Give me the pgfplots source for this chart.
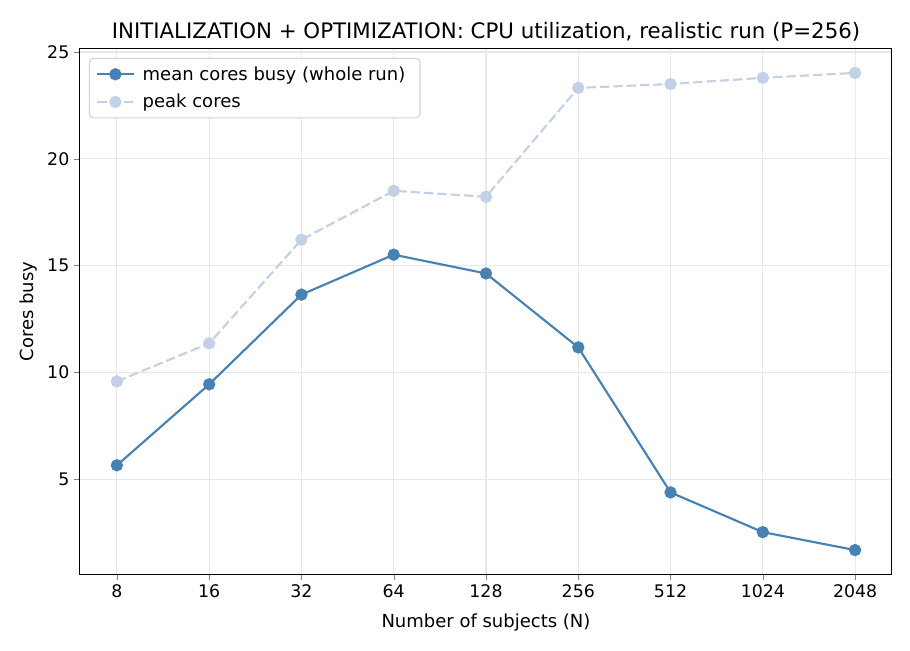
\documentclass[border=0pt]{standalone}
\usepackage{pgfplots}
\pgfplotsset{compat=1.18}
\usepackage{fontspec}
\setmainfont{DejaVu Sans}
\definecolor{steel}{HTML}{4682B4}
\definecolor{peakc}{RGB}{194,209,229}
\definecolor{gridc}{RGB}{232,232,232}
\begin{document}
\begin{tikzpicture}
\path[use as bounding box] (-60pt,-57pt) rectangle (622.5pt,430.5pt);
\begin{axis}[
  at={(0,0)}, anchor=south west,
  scale only axis, width=609pt, height=393.75pt,
  xmin=-0.4, xmax=8.4, ymin=0.56, ymax=25.14,
  xtick={0,1,2,3,4,5,6,7,8},
  xticklabels={8,16,32,64,128,256,512,1024,2048},
  ytick={5,10,15,20,25},
  /pgf/number format/assume math mode=true,
  tick label style={font=\fontsize{13}{15}\selectfont},
  label style={font=\fontsize{13.5}{16}\selectfont},
  xlabel={Number of subjects (N)},
  ylabel={Cores busy},
  xlabel style={yshift=-5pt},
  ylabel style={yshift=1pt},
  title={INITIALIZATION + OPTIMIZATION: CPU utilization, realistic run (P=256)},
  title style={font=\fontsize{16}{19}\selectfont, yshift=-4pt},
  grid=major, major grid style={gridc, line width=0.8pt},
  tick align=outside, tick pos=left,
  major tick length=4.5pt,
  axis line style={line width=0.75pt},
  legend style={font=\fontsize{13.5}{16}\selectfont, draw=gray!35, line width=0.8pt, rounded corners=3pt, at={(0.011,0.983)}, anchor=north west, inner xsep=5pt, inner ysep=4pt, row sep=5pt, nodes={inner xsep=6pt}},
  legend cell align=left,
  legend image code/.code={\draw[mark repeat=2,mark phase=2,#1] plot coordinates {(0cm,0cm) (0.48cm,0cm) (0.96cm,0cm)};},
]
\addplot[steel, line width=1.6pt, mark=*, mark size=3.8pt, mark options={fill=steel, draw=steel}] coordinates {
(0,5.65) (1,9.44) (2,13.64) (3,15.51) (4,14.63) (5,11.17) (6,4.38) (7,2.52) (8,1.68)};
\addplot[peakc, dash pattern=on 7pt off 3pt, line width=1.6pt, mark=*, mark size=3.8pt, mark options={solid, fill=peakc, draw=peakc}] coordinates {
(0,9.58) (1,11.36) (2,16.21) (3,18.50) (4,18.22) (5,23.32) (6,23.50) (7,23.79) (8,24.02)};
\legend{mean cores busy (whole run), peak cores}
\end{axis}
\end{tikzpicture}
\end{document}
